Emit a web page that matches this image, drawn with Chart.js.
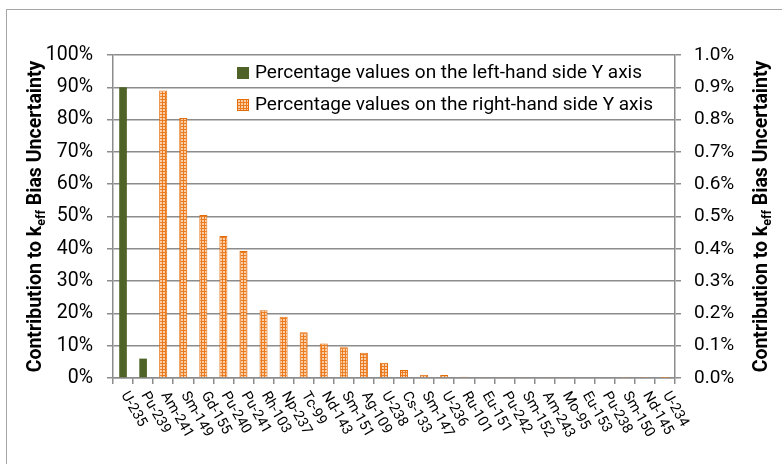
<!DOCTYPE html>
<html>
<head>
<meta charset="utf-8">
<script src="https://cdn.jsdelivr.net/npm/chart.js@4.4.0/dist/chart.umd.min.js"></script>
<style>
body { margin: 0; background: #fff; }
#frame { position: absolute; left: 6px; top: 9px; width: 800px; height: 500px; border-left: 1.5px solid #a6a6a6; border-top: 1.5px solid #a6a6a6; }
#myChart { position: absolute; left: 0; top: 0; }
</style>
</head>
<body>
<div id="frame"></div>
<canvas id="myChart" width="782" height="464"></canvas>
<script>
const categories = ['U-235', 'Pu-239', 'Am-241', 'Sm-149', 'Gd-155', 'Pu-240', 'Pu-241', 'Rh-103', 'Np-237', 'Tc-99',
    'Nd-143', 'Sm-151', 'Ag-109', 'U-238', 'Cs-133', 'Sm-147', 'U-236', 'Ru-101', 'Eu-151', 'Pu-242',
    'Sm-152', 'Am-243', 'Mo-95', 'Eu-153', 'Pu-238', 'Sm-150', 'Nd-145', 'U-234']

// left-hand axis series (%)
const leftValues = [90, 6, null, null, null, null, null, null, null, null,
    null, null, null, null, null, null, null, null, null, null,
    null, null, null, null, null, null, null, null]

// right-hand axis series (%)
const rightValues = [null, null, 0.89, 0.805, 0.505, 0.44, 0.393, 0.21, 0.19, 0.142,
    0.107, 0.095, 0.078, 0.047, 0.025, 0.01, 0.009, 0.004, 0.003, 0.003,
    0.003, 0.003, 0.003, 0.002, 0.002, 0.001, 0.0005, 0.0003]

const leftTickLabels = ['0%', '10%', '20%', '30%', '40%', '50%', '60%', '70%', '80%', '90%', '100%']
const rightTickLabels = ['0.0%', '0.1%', '0.2%', '0.3%', '0.4%', '0.5%', '0.6%', '0.7%', '0.8%', '0.9%', '1.0%']

const leftLabel = 'Percentage values on the left-hand side Y axis'
const rightLabel = 'Percentage values on the right-hand side Y axis'

const fontName = 'Roboto, sans-serif'
const green = '#4F6228'
const orange = '#E36C09'
const gray = '#8c8c8c'

// dotted orange fill like the excel pattern
function makePattern() {
    const c = document.createElement('canvas')
    c.width = 3
    c.height = 3
    const g = c.getContext('2d')
    g.fillStyle = '#EC7A1F'
    g.fillRect(0, 0, 3, 3)
    g.fillStyle = '#FBCFA8'
    g.fillRect(1, 1, 2, 2)
    return g.createPattern(c, 'repeat')
}
const orangePattern = makePattern()

function drawTitle(c, x, y) {
    const big = 'bold 19.5px ' + fontName
    const small = 'bold 12.5px ' + fontName
    const parts = [['Contribution to k', big, 0], ['eff', small, 4], [' Bias Uncertainty', big, 0]]
    let total = 0
    parts.forEach(p => { c.font = p[1]; total += c.measureText(p[0]).width })
    c.save()
    c.translate(x, y)
    c.rotate(-Math.PI / 2)
    c.fillStyle = '#000'
    c.textBaseline = 'alphabetic'
    c.textAlign = 'left'
    let pos = -total / 2
    parts.forEach(p => {
        c.font = p[1]
        c.fillText(p[0], pos, p[2])
        pos += c.measureText(p[0]).width
    })
    c.restore()
}

const extras = {
    id: 'extras',
    afterDraw(chart) {
        const c = chart.ctx
        const xs = chart.scales.x
        const area = chart.chartArea

        // rotated category labels
        c.save()
        c.fillStyle = '#000'
        c.font = '14.5px ' + fontName
        c.textAlign = 'left'
        c.textBaseline = 'middle'
        categories.forEach((name, i) => {
            const px = xs.getPixelForTick(i)
            c.save()
            c.translate(px + 1, area.bottom + 15)
            c.rotate(Math.PI / 3)
            c.fillText(name, 0, 0)
            c.restore()
        })
        c.restore()

        // axis titles
        const mid = (area.top + area.bottom) / 2
        drawTitle(c, 41, mid)
        drawTitle(c, 767, mid)

        // legend inside the plot
        const ds = chart.data.datasets
        c.save()
        c.font = '19px ' + fontName
        c.textBaseline = 'middle'
        c.fillStyle = ds[0].backgroundColor
        c.fillRect(237, 67, 12, 12)
        c.fillStyle = ds[1].backgroundColor
        c.fillRect(237, 99, 12, 12)
        c.strokeStyle = orange
        c.lineWidth = 1
        c.strokeRect(237.5, 99.5, 11, 11)
        c.fillStyle = '#000'
        c.fillText(ds[0].label, 255, 73)
        c.fillText(ds[1].label, 255, 105)
        c.restore()
    }
}

const ctx = document.getElementById('myChart')

new Chart(ctx, {
    type: 'bar',
    data: {
        labels: categories,
        datasets: [{
            label: leftLabel,
            data: leftValues,
            yAxisID: 'yLeft',
            backgroundColor: green,
            borderWidth: 0,
            grouped: false,
            categoryPercentage: 1,
            barPercentage: 0.38
        }, {
            label: rightLabel,
            data: rightValues,
            yAxisID: 'yRight',
            backgroundColor: orangePattern,
            borderColor: orange,
            borderWidth: 1,
            grouped: false,
            categoryPercentage: 1,
            barPercentage: 0.4
        }]
    },
    options: {
        responsive: false,
        animation: false,
        layout: { padding: { top: 55, left: 0, right: 0, bottom: 0 } },
        plugins: {
            legend: { display: false },
            tooltip: { enabled: false }
        },
        scales: {
            x: {
                grid: { display: true, drawOnChartArea: false, drawTicks: true, tickLength: 6, offset: true, color: gray, lineWidth: 1.5 },
                border: { color: gray, width: 1.5 },
                ticks: { display: false },
                afterFit: s => { s.height = 86 }
            },
            yLeft: {
                position: 'left',
                min: 0,
                max: 100,
                ticks: {
                    stepSize: 10,
                    padding: 14,
                    color: '#000',
                    font: { family: fontName, size: 19.5 },
                    callback: (v, i) => leftTickLabels[i]
                },
                grid: { color: gray, lineWidth: 1.5, tickLength: 6 },
                border: { color: gray, width: 1.5 },
                afterFit: s => { s.width = 113 }
            },
            yRight: {
                position: 'right',
                min: 0,
                max: 1,
                ticks: {
                    stepSize: 0.1,
                    padding: 13,
                    color: '#000',
                    font: { family: fontName, size: 19 },
                    callback: (v, i) => rightTickLabels[i]
                },
                grid: { drawOnChartArea: false, color: gray, lineWidth: 1.5, tickLength: 6 },
                border: { color: gray, width: 1.5 },
                afterFit: s => { s.width = 107 }
            }
        }
    },
    plugins: [extras]
})
</script>
</body>
</html>
